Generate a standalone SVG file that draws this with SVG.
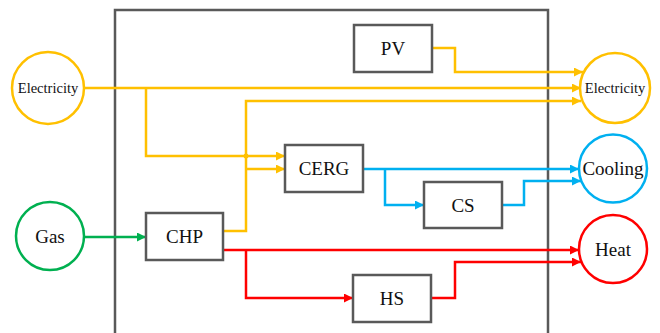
<svg xmlns="http://www.w3.org/2000/svg" width="660" height="333" viewBox="0 0 660 333">
<style>
.box{fill:#fff;stroke:#595959;stroke-width:2.5}
.lbl{font-family:"Liberation Serif","Times New Roman",serif;font-size:19px;fill:#111;text-anchor:middle;dominant-baseline:central}
.sm{font-size:14.5px}
.c{fill:#fff;stroke-width:2.5}
.ln{fill:none;stroke-width:2.5}
.y{stroke:#FFC000}.b{stroke:#00B0F0}.r{stroke:#FF0000}.g{stroke:#00B050}
</style>
<defs>
<marker id="ay" viewBox="0 0 10 10" refX="10" refY="5" markerWidth="4.4" markerHeight="3.6" markerUnits="strokeWidth" orient="auto"><path d="M0,0L10,5L0,10z" fill="#FFC000"/></marker>
<marker id="ab" viewBox="0 0 10 10" refX="10" refY="5" markerWidth="4.4" markerHeight="3.6" markerUnits="strokeWidth" orient="auto"><path d="M0,0L10,5L0,10z" fill="#00B0F0"/></marker>
<marker id="ar" viewBox="0 0 10 10" refX="10" refY="5" markerWidth="4.4" markerHeight="3.6" markerUnits="strokeWidth" orient="auto"><path d="M0,0L10,5L0,10z" fill="#FF0000"/></marker>
<marker id="ag" viewBox="0 0 10 10" refX="10" refY="5" markerWidth="4.4" markerHeight="3.6" markerUnits="strokeWidth" orient="auto"><path d="M0,0L10,5L0,10z" fill="#00B050"/></marker>
</defs>
<rect width="660" height="333" fill="#fff"/>
<path id="frame" d="M115,340V10H548V340" fill="none" stroke="#595959" stroke-width="2.5"/>
<g id="connectors">
<path class="ln y" d="M84,88H581" marker-end="url(#ay)"/>
<path class="ln y" d="M146,88V156H285" marker-end="url(#ay)"/>
<path class="ln y" d="M223,231H246V101H581" marker-end="url(#ay)"/>
<path class="ln y" d="M246,169H285" marker-end="url(#ay)"/>
<circle cx="246" cy="156" r="2.5" fill="#FFC000"/>
<path class="ln y" d="M432,48H455V72H583" marker-end="url(#ay)"/>
<path class="ln b" d="M363,169H579" marker-end="url(#ab)"/>
<path class="ln b" d="M385,169V205H424" marker-end="url(#ab)"/>
<path class="ln b" d="M502,205H524V181H581" marker-end="url(#ab)"/>
<path class="ln g" d="M84,237H146" marker-end="url(#ag)"/>
<path class="ln r" d="M223,250H579" marker-end="url(#ar)"/>
<path class="ln r" d="M246,250V298H353" marker-end="url(#ar)"/>
<path class="ln r" d="M431,298H455V262H581" marker-end="url(#ar)"/>
</g>
<g id="elec-in"><circle class="c y" cx="48" cy="88" r="36"/><text class="lbl sm" x="48" y="88">Electricity</text></g>
<g id="gas-in"><circle class="c g" cx="50" cy="236" r="34"/><text class="lbl" x="50" y="236">Gas</text></g>
<g id="elec-out"><circle class="c y" cx="615" cy="88" r="35"/><text class="lbl sm" x="615" y="88">Electricity</text></g>
<g id="cooling"><circle class="c b" cx="613" cy="168.5" r="34"/><text class="lbl" x="613" y="168.5">Cooling</text></g>
<g id="heat"><circle class="c r" cx="613" cy="249" r="34"/><text class="lbl" x="613" y="249">Heat</text></g>
<g id="pv"><rect class="box" x="354" y="25" width="78" height="47"/><text class="lbl" x="393" y="48.5">PV</text></g>
<g id="cerg"><rect class="box" x="285" y="145" width="78" height="47"/><text class="lbl" x="324" y="168.5">CERG</text></g>
<g id="cs"><rect class="box" x="424" y="182" width="78" height="46"/><text class="lbl" x="463" y="205">CS</text></g>
<g id="chp"><rect class="box" x="146" y="213" width="77" height="47"/><text class="lbl" x="184.5" y="236.5">CHP</text></g>
<g id="hs"><rect class="box" x="353" y="275" width="78" height="47"/><text class="lbl" x="392" y="298.5">HS</text></g>
</svg>
